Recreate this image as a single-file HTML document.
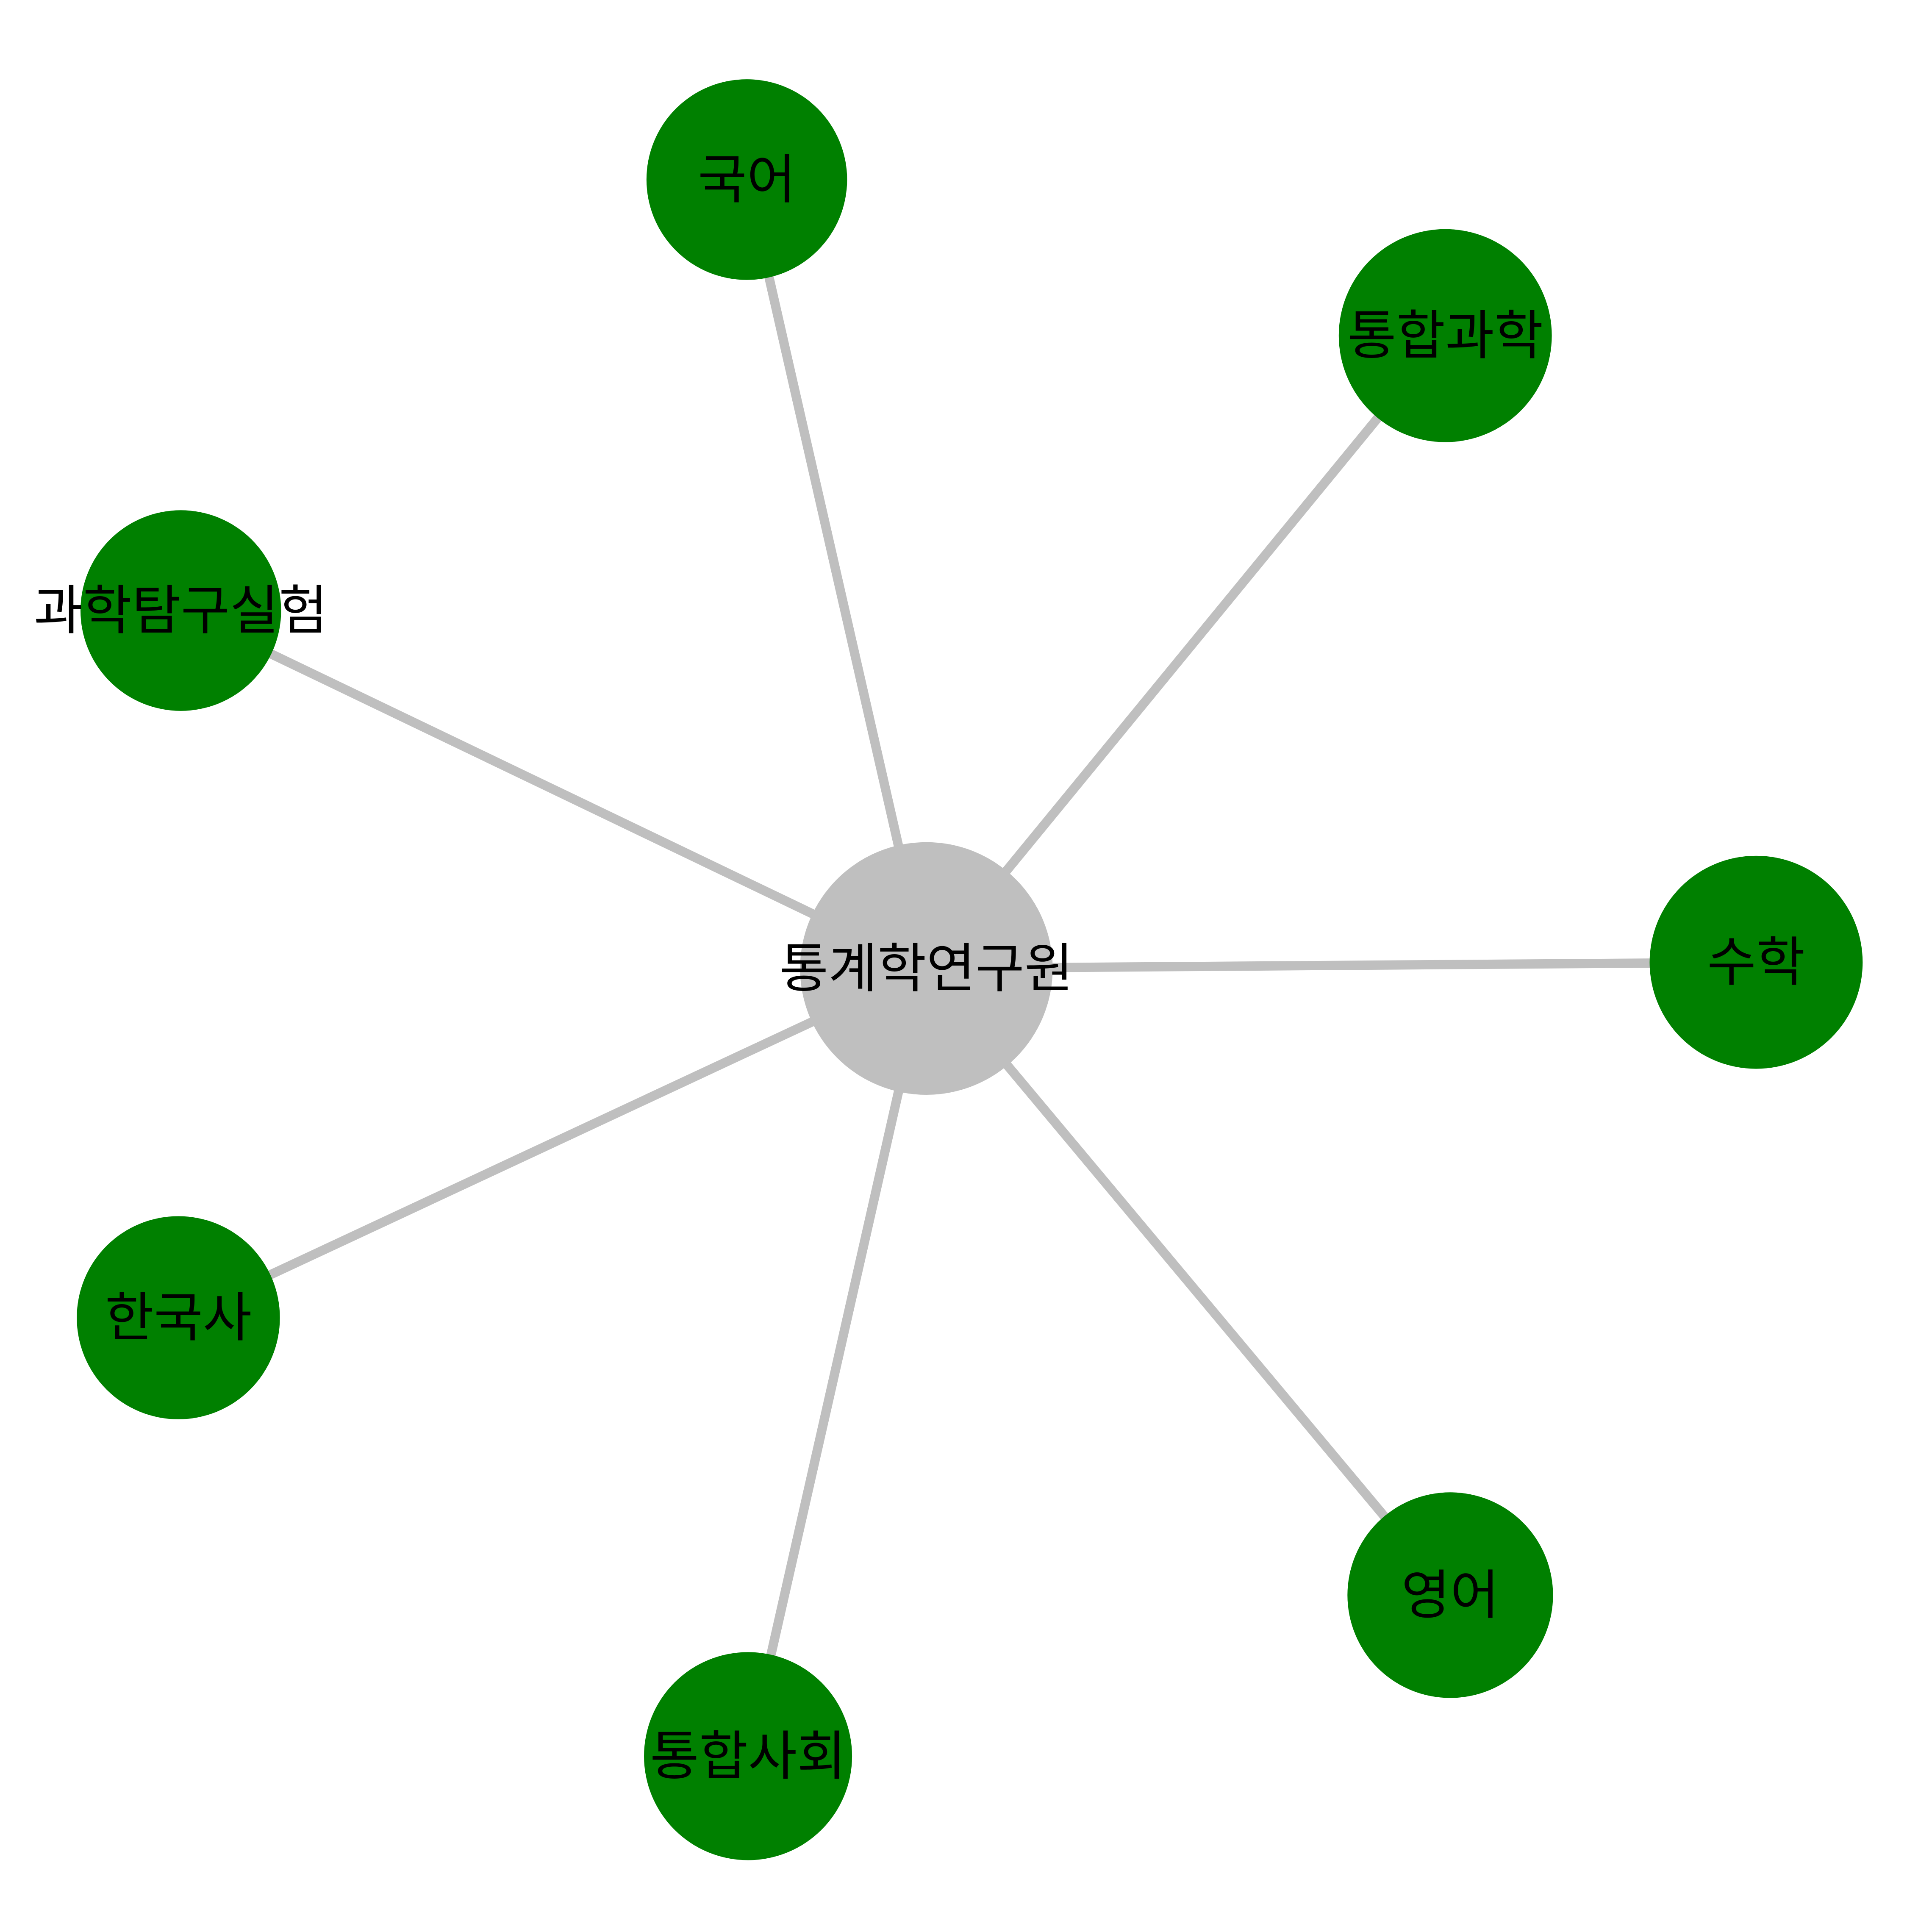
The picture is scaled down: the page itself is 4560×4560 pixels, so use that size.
<!DOCTYPE html>
<html><head><meta charset="utf-8"><style>
html,body{margin:0;padding:0;background:#fff;}
svg{display:block;}
text{font-family:"Liberation Sans","Noto Sans CJK KR","NanumGothic",sans-serif;font-size:43px;fill:#000;}
</style></head><body>
<svg id="chart" width="4560" height="4560" viewBox="0 0 1560 1560" xmlns="http://www.w3.org/2000/svg">
<g id="edges"></g>
<g id="nodes"></g>
</svg>
<script>
const centerLabel = "통계학연구원";
const centerPos = [748, 782];
const centerRadius = 102;
const nodeLabels = ["국어","통합과학","과학탐구실험","수학","한국사","통합사회","영어"];
const nodeX = [603,1167,146,1418,144,604,1171];
const nodeY = [145,271,493,777,1064,1418,1288];
const nodeRadius = [81,86,81,86,82,84,83];
const nodeNames = ["node-korean","node-integrated-science","node-science-lab","node-math","node-korean-history","node-integrated-social","node-english"];

const NS = "http://www.w3.org/2000/svg";
const edges = document.getElementById('edges');
const nodes = document.getElementById('nodes');

for (let i = 0; i < nodeLabels.length; i++) {
  const l = document.createElementNS(NS, 'line');
  l.setAttribute('x1', centerPos[0]); l.setAttribute('y1', centerPos[1]);
  l.setAttribute('x2', nodeX[i]); l.setAttribute('y2', nodeY[i]);
  l.setAttribute('stroke', '#bfbfbf'); l.setAttribute('stroke-width', 7.5);
  
  
  edges.appendChild(l);
}

function addNode(x, y, r, fill, label, name) {
  const g = document.createElementNS(NS, 'g');
  
  
  const c = document.createElementNS(NS, 'circle');
  c.setAttribute('cx', x); c.setAttribute('cy', y); c.setAttribute('r', r);
  c.setAttribute('fill', fill);
  
  
  const t = document.createElementNS(NS, 'text');
  t.setAttribute('x', x); t.setAttribute('y', y);
  t.setAttribute('text-anchor', 'middle'); t.setAttribute('dominant-baseline', 'central');
  t.textContent = label;
  
  
  g.appendChild(c); g.appendChild(t);
  nodes.appendChild(g);
}

addNode(centerPos[0], centerPos[1], centerRadius, '#bfbfbf', centerLabel, 'node-center');
for (let i = 0; i < nodeLabels.length; i++) {
  addNode(nodeX[i], nodeY[i], nodeRadius[i], '#008000', nodeLabels[i], nodeNames[i]);
}
</script>
</body></html>
